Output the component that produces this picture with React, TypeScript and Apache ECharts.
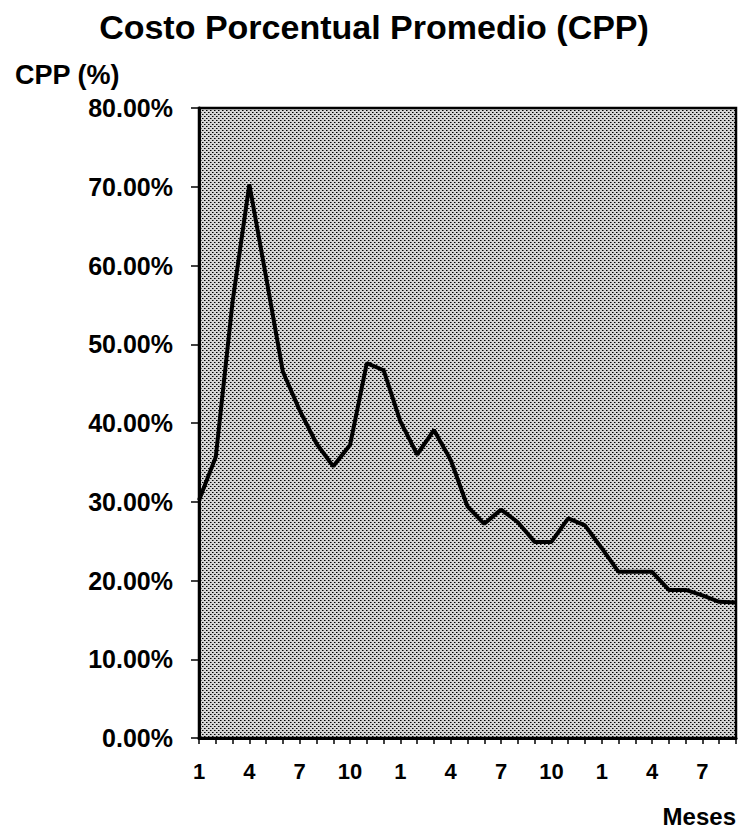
import React, { useEffect, useRef } from "react";
import * as echarts from "echarts";

const months: string[] = [
  "1", "2", "3", "4", "5", "6", "7", "8", "9", "10", "11", "12",
  "1", "2", "3", "4", "5", "6", "7", "8", "9", "10", "11", "12",
  "1", "2", "3", "4", "5", "6", "7", "8", "9",
];

const cppValues: number[] = [
  30.2, 35.7, 55.4, 70.3, 58.5, 46.5, 41.6, 37.4, 34.5, 37.2, 47.6, 46.7,
  40.2, 36.0, 39.1, 35.3, 29.4, 27.2, 29.0, 27.4, 24.9, 24.9, 27.9, 27.0,
  24.1, 21.1, 21.1, 21.1, 18.8, 18.8, 18.1, 17.3, 17.2,
];

const titleText = "Costo Porcentual Promedio (CPP)";
const yName = "CPP (%)";
const xName = "Meses";

function makePattern(): string {
  const c = document.createElement("canvas");
  c.width = 4;
  c.height = 4;
  const ctx = c.getContext("2d");
  if (!ctx) return "";
  ctx.fillStyle = "#d4d4d4";
  ctx.fillRect(0, 0, 4, 4);
  ctx.fillStyle = "#000000";
  ctx.fillRect(0, 0, 1, 1);
  ctx.fillRect(2, 2, 1, 1);
  ctx.fillStyle = "#6a6a6a";
  ctx.fillRect(1, 0, 1, 1);
  ctx.fillRect(3, 2, 1, 1);
  return c.toDataURL();
}

export default function App() {
  const ref = useRef<HTMLDivElement>(null);

  useEffect(() => {
    if (!ref.current) return;
    const chart = echarts.init(ref.current, null, { renderer: "svg" });
    const pat = makePattern();
    const bg: any = pat ? { image: pat, repeat: "repeat" } : "#b0b0b0";
    const font = "'Liberation Sans', Arial, Helvetica, sans-serif";
    chart.setOption({
      animation: false,
      backgroundColor: "#ffffff",
      title: {
        text: titleText,
        left: 369,
        textAlign: "center",
        top: 5,
        textStyle: {
          fontFamily: font,
          fontSize: 34,
          fontWeight: "bold",
          color: "#000",
        },
      },
      graphic: [
        {
          type: "text",
          left: 15,
          top: 61,
          style: {
            text: yName,
            font: `bold 27px ${font}`,
            fill: "#000",
          },
        },
        {
          type: "text",
          right: 18,
          top: 804,
          style: {
            text: xName,
            font: `bold 24px ${font}`,
            fill: "#000",
          },
        },
      ],
      grid: {
        left: 199,
        right: 18,
        top: 108,
        bottom: 99,
        show: true,
        backgroundColor: bg,
        borderColor: "#000",
        borderWidth: 2.5,
      },
      xAxis: {
        type: "category",
        data: months,
        boundaryGap: false,
        axisLine: { show: true, lineStyle: { color: "#000", width: 3 } },
        axisTick: {
          show: true,
          interval: 0,
          length: 6,
          lineStyle: { color: "#000", width: 1.5 },
        },
        axisLabel: {
          interval: 2,
          margin: 22,
          fontFamily: font,
          fontSize: 22,
          fontWeight: "bold",
          color: "#000",
        },
        splitLine: { show: false },
      },
      yAxis: {
        type: "value",
        min: 0,
        max: 80,
        interval: 10,
        axisLine: { show: true, lineStyle: { color: "#000", width: 3 } },
        axisTick: {
          show: true,
          length: 8,
          lineStyle: { color: "#000", width: 1.5 },
        },
        axisLabel: {
          margin: 26,
          fontFamily: font,
          fontSize: 25,
          fontWeight: "bold",
          color: "#000",
          formatter: (v: number) => v.toFixed(2) + "%",
        },
        splitLine: { show: false },
      },
      series: [
        {
          type: "line",
          data: cppValues,
          showSymbol: false,
          symbol: "none",
          lineStyle: { color: "#000", width: 4 },
          itemStyle: { color: "#000" },
        },
      ],
    });
    return () => chart.dispose();
  }, []);

  return (
    <div
      ref={ref}
      style={{
        position: "fixed",
        left: 0,
        top: 0,
        width: 754,
        height: 837,
        background: "#fff",
      }}
    />
  );
}
